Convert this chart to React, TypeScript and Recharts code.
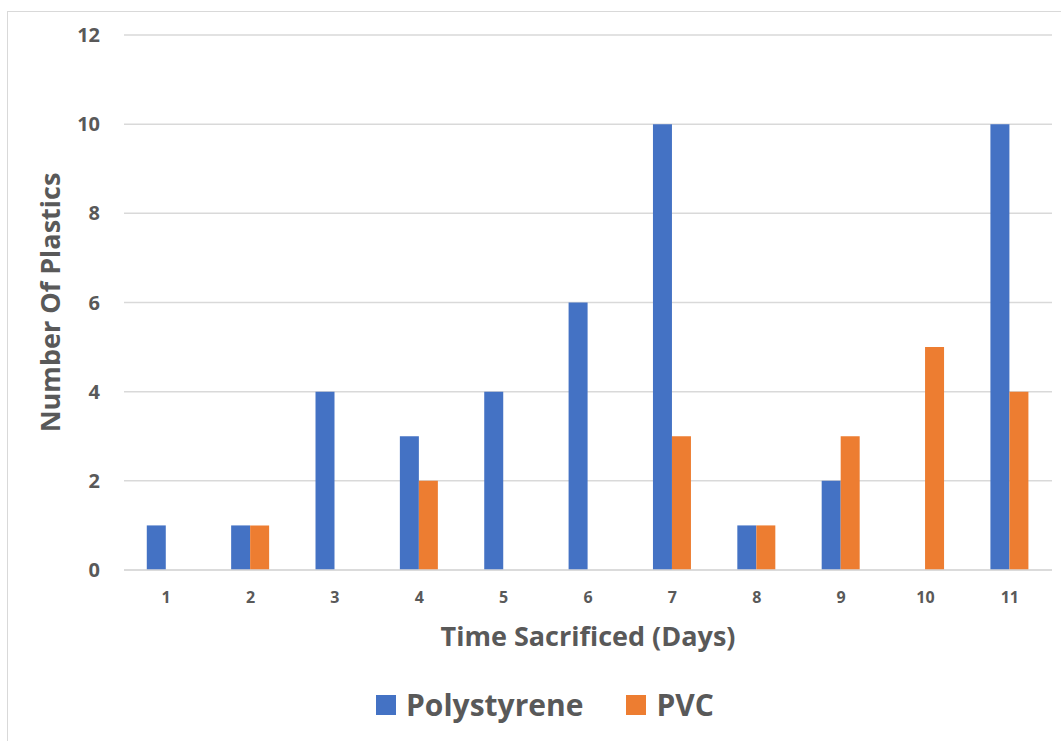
import React from 'react';
import { BarChart, Bar, XAxis, YAxis, CartesianGrid, Legend } from 'recharts';

const days = ['1', '2', '3', '4', '5', '6', '7', '8', '9', '10', '11'];
const polystyrene = [1, 1, 4, 3, 4, 6, 10, 1, 2, 0, 10];
const pvc = [0, 1, 0, 2, 0, 0, 3, 1, 3, 5, 4];
const yTicks = [0, 2, 4, 6, 8, 10, 12];
const seriesNames = ['Polystyrene', 'PVC'];
const seriesColors = ['#4472C4', '#ED7D31'];

const data = days.map((d, i) => ({ day: d, Polystyrene: polystyrene[i], PVC: pvc[i] }));

const TEXT = '#595959';
const FONT = '"Open Sans", sans-serif';

const renderLegend = (props: any) => {
  const payload = [...(props.payload || [])].sort(
    (a: any, b: any) => seriesNames.indexOf(a.value) - seriesNames.indexOf(b.value)
  );
  return (
    <div style={{ display: 'flex', alignItems: 'center', paddingLeft: 376 }}>
      {payload.map((p: any, i: number) => (
        <div key={i} style={{ display: 'flex', alignItems: 'center', marginRight: 43 }}>
          <div style={{ width: 20, height: 20, background: p.color, marginRight: 10 }} />
          <span style={{ fontFamily: FONT, fontWeight: 700, fontSize: 30, color: TEXT }}>{p.value}</span>
        </div>
      ))}
    </div>
  );
};

export default function App() {
  return (
    <div style={{ position: 'absolute', left: 0, top: 0, width: 1061, height: 741, background: '#fff', overflow: 'hidden' }}>
      <div style={{ position: 'absolute', left: 7, top: 11, width: 1070, height: 740, border: '1px solid #d9d9d9' }} />
      <BarChart
        width={1061}
        height={741}
        data={data}
        margin={{ top: 35, right: 9, bottom: 0, left: 0 }}
        barCategoryGap="27%"
        barGap={0}
      >
        <CartesianGrid vertical={false} stroke="#d9d9d9" strokeWidth={1.5} />
        <XAxis
          dataKey="day"
          height={171}
          axisLine={{ stroke: '#d9d9d9', strokeWidth: 1.5 }}
          tickLine={false}
          tickMargin={16}
          tick={{ fill: TEXT, fontFamily: FONT, fontWeight: 700, fontSize: 16 }}
          label={{
            value: 'Time Sacrificed (Days)',
            position: 'insideTop',
            offset: 57,
            style: { fill: TEXT, fontFamily: FONT, fontWeight: 700, fontSize: 27 },
          }}
        />
        <YAxis
          width={124}
          domain={[0, 12]}
          ticks={yTicks}
          axisLine={false}
          tickLine={false}
          tickMargin={18}
          tick={{ fill: TEXT, fontFamily: FONT, fontWeight: 700, fontSize: 20 }}
          label={{
            value: 'Number Of Plastics',
            angle: -90,
            position: 'insideLeft',
            offset: 50,
            style: { fill: TEXT, fontFamily: FONT, fontWeight: 700, fontSize: 27, textAnchor: 'middle' },
          }}
        />
        <Legend
          verticalAlign="middle"
          layout="horizontal"
          align="center"
          content={renderLegend}
          wrapperStyle={{ top: 684, left: 0, width: 1061 }}
        />
        {seriesNames.map((name, i) => (
          <Bar key={name} dataKey={name} fill={seriesColors[i]} isAnimationActive={false} />
        ))}
      </BarChart>
    </div>
  );
}
